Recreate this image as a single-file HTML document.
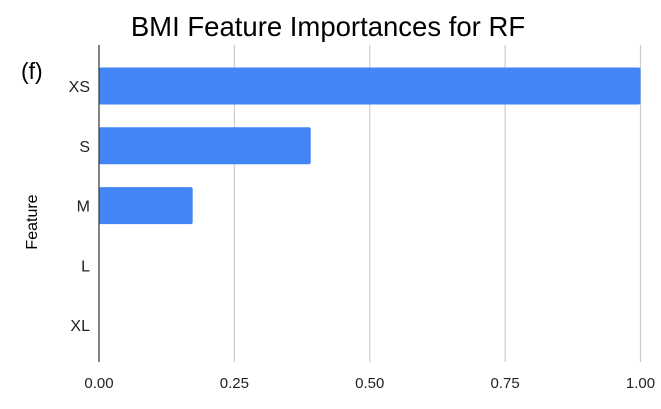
<!DOCTYPE html>
<html><head><meta charset="utf-8"><style>
body{margin:0;background:#fff;}
svg{display:block;font-family:"Liberation Sans",Arial,sans-serif;}
</style></head><body>
<svg id="chart" width="661" height="409" viewBox="0 0 661 409">
<rect width="661" height="409" fill="#fff"/>
<text x="328" y="36" text-anchor="middle" font-size="27.5" fill="#000">BMI Feature Importances for RF</text>
<text x="21" y="79" font-size="23" fill="#000">(f)</text>
<text transform="translate(37,222) rotate(-90)" text-anchor="middle" font-size="16" fill="#000">Feature</text>
<g id="grid"></g>
<g id="bars"></g>
<g id="xticks"></g>
<g id="yticks"></g>
<line x1="99" y1="45" x2="99" y2="362" stroke="#333" stroke-width="1.2"/>
</svg>
<script>
const categories = ["XS","S","M","L","XL"];
const values = [1.0, 0.391, 0.173, 0, 0];
const xTicks = [0, 0.25, 0.5, 0.75, 1.0];
const xTickLabels = ["0.00","0.25","0.50","0.75","1.00"];

const NS="http://www.w3.org/2000/svg";
const x0=99, xw=541.5, yTop=45, yBot=362, yC0=86, band=59.8, barH=37;
function xScale(v){return x0+v*xw;}
function yScale(i){return yC0+i*band;}
const grid=document.getElementById('grid'), bars=document.getElementById('bars'),
 xt=document.getElementById('xticks'), yt=document.getElementById('yticks');
xTicks.forEach((t,i)=>{
  if(t>0){
    const l=document.createElementNS(NS,'line');
    l.setAttribute('x1',xScale(t));l.setAttribute('x2',xScale(t));
    l.setAttribute('y1',yTop);l.setAttribute('y2',yBot);
    l.setAttribute('stroke','#ccc');l.setAttribute('stroke-width','1.2');
    
    
    grid.appendChild(l);
  }
  const tx=document.createElementNS(NS,'text');
  tx.setAttribute('x',xScale(t));tx.setAttribute('y',388);
  tx.setAttribute('text-anchor','middle');tx.setAttribute('font-size','15');tx.setAttribute('fill','#222');
  tx.textContent=xTickLabels[i];
  
  
  xt.appendChild(tx);
});
categories.forEach((c,i)=>{
  const tx=document.createElementNS(NS,'text');
  tx.setAttribute('x',90);tx.setAttribute('y',yScale(i)+6);
  tx.setAttribute('text-anchor','end');tx.setAttribute('font-size','16');tx.setAttribute('fill','#222');
  tx.textContent=c;
  
  
  yt.appendChild(tx);
  if(values[i]>0){
    const r=document.createElementNS(NS,'rect');
    r.setAttribute('x',x0);r.setAttribute('y',yScale(i)-barH/2);
    r.setAttribute('width',xScale(values[i])-x0);r.setAttribute('height',barH);
    r.setAttribute('rx','2');r.setAttribute('fill','#4285f4');
    
    
    bars.appendChild(r);
  }
});
</script>
</body></html>
